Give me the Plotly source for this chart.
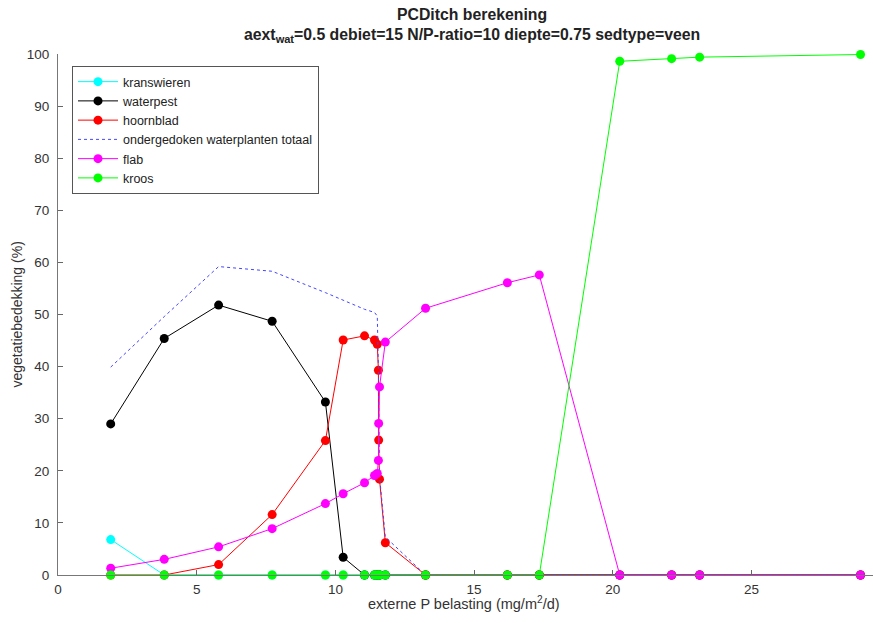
import plotly.graph_objects as go

# external P load (mg/m2/d)
x_load = [1.9, 3.83, 5.79, 7.72, 9.64, 10.28, 11.05, 11.41, 11.51, 11.55,
          11.56, 11.59, 11.8, 13.25, 16.2, 17.35, 20.25, 22.12, 23.13, 28.93]

kranswieren = [6.8, 0, 0, 0, 0, 0, 0, 0, 0, 0, 0, 0, 0, 0, 0, 0, 0, 0, 0, 0]
waterpest = [29.0, 45.4, 51.8, 48.7, 33.2, 3.4, 0, 0, 0, 0, 0, 0, 0, 0, 0, 0, 0, 0, 0, 0]
hoornblad = [0, 0, 2.0, 11.6, 25.8, 45.1, 45.9, 45.1, 44.3, 39.3,
             25.9, 18.4, 6.2, 0, 0, 0, 0, 0, 0, 0]
totaal = [39.9, 49.6, 59.2, 58.3, 54.2, 52.7, 51.0, 50.4, 49.7, 39.5,
          26.5, 19.0, 7.3, 0, 0, 0, 0, 0, 0, 0]
flab = [1.3, 3.0, 5.4, 8.9, 13.7, 15.6, 17.7, 19.1, 19.5, 22.0,
        29.1, 36.1, 44.7, 51.2, 56.1, 57.6, 0, 0, 0, 0]
kroos = [0, 0, 0, 0, 0, 0, 0, 0, 0, 0, 0, 0, 0, 0, 0, 0, 98.6, 99.1, 99.4, 99.9]

x_ticks = [0, 5, 10, 15, 20, 25]
y_ticks = [0, 10, 20, 30, 40, 50, 60, 70, 80, 90, 100]

FONT = "Liberation Sans, Arial, sans-serif"

fig = go.Figure()

def add_series(name, y, color, marker=True, dash="solid"):
    fig.add_trace(go.Scatter(
        x=x_load, y=y, name=name,
        mode="lines+markers" if marker else "lines",
        line=dict(color=color, width=1, dash=dash),
        marker=dict(color=color, size=9) if marker else None,
        cliponaxis=False,
    ))

add_series("kranswieren", kranswieren, "#00FFFF")
add_series("waterpest", waterpest, "#000000")
add_series("hoornblad", hoornblad, "#FF0000")
add_series("ondergedoken waterplanten totaal", totaal, "rgb(70,70,255)", marker=False, dash="dot")
add_series("flab", flab, "#FF00FF")
add_series("kroos", kroos, "#00FF00")

L, R, T, B = 58, 0, 54, 48
W, H = 873, 623
pw = W - L - R
ph = H - T - B
xmax = pw / 27.74

def px_to_paper_x(px):
    return (px - L) / pw

def px_to_paper_y(py):
    return (575 - py) / ph

fig.update_layout(
    width=W, height=H,
    margin=dict(l=L, r=R, t=T, b=B, pad=0),
    paper_bgcolor="white", plot_bgcolor="white",
    font=dict(family=FONT, size=13, color="#333333"),
    showlegend=True,
    legend=dict(
        x=px_to_paper_x(72), y=px_to_paper_y(66),
        xanchor="left", yanchor="top",
        bordercolor="#555555", borderwidth=1, bgcolor="white",
        font=dict(family=FONT, size=12.5, color="#222222"),
        tracegroupgap=0, itemwidth=40,
    ),
    xaxis=dict(
        range=[0, xmax], tickvals=x_ticks, ticks="inside", ticklen=5,
        tickcolor="#666666", showline=True, linecolor="#777777", linewidth=1,
        showgrid=False, zeroline=False, tickfont=dict(size=13.5, color="#333333"),
        ticklabelstandoff=2,
    ),
    yaxis=dict(
        range=[0, 100], tickvals=y_ticks, ticks="inside", ticklen=5,
        tickcolor="#666666", showline=True, linecolor="#777777", linewidth=1,
        showgrid=False, zeroline=False, tickfont=dict(size=13.5, color="#333333"),
        ticklabelstandoff=5,
    ),
    annotations=[
        dict(text="<b>PCDitch berekening</b>", xref="paper", yref="paper",
             x=px_to_paper_x(472), y=px_to_paper_y(15), xanchor="center", yanchor="middle",
             showarrow=False, font=dict(size=15.8, color="#222222")),
        dict(text="<b>aext<sub>wat</sub>=0.5 debiet=15 N/P-ratio=10 diepte=0.75 sedtype=veen</b>",
             xref="paper", yref="paper",
             x=px_to_paper_x(472), y=px_to_paper_y(36), xanchor="center", yanchor="middle",
             showarrow=False, font=dict(size=15.8, color="#222222")),
        dict(text="externe P belasting (mg/m<sup>2</sup>/d)", xref="paper", yref="paper",
             x=px_to_paper_x(464), y=px_to_paper_y(603), xanchor="center", yanchor="middle",
             showarrow=False, font=dict(size=14.5, color="#333333")),
        dict(text="vegetatiebedekking (%)", xref="paper", yref="paper",
             x=px_to_paper_x(16), y=0.5, xanchor="center", yanchor="middle", textangle=-90,
             showarrow=False, font=dict(size=14, color="#333333")),
    ],
)

fig.write_html("out.html")
